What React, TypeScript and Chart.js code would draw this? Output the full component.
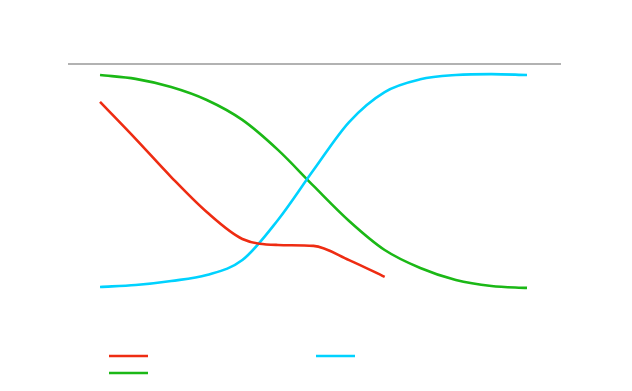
import React, { useEffect, useRef } from "react";
import { Chart, registerables } from "chart.js";

Chart.register(...registerables);

const xValues = [0, 1, 2, 3, 4, 5, 6, 7, 8, 9, 10, 11, 12];
const redValues = [84.2, 68.8, 52.9, 38.3, 27.1, 24.6, 24.2, 18.3, 11.3];
const greenValues = [95.4, 93.8, 90.4, 85.0, 76.7, 64.2, 49.2, 34.6, 22.5, 15.0, 10.0, 7.5, 6.7];
const cyanValues = [7.1, 7.9, 9.6, 12.1, 18.3, 35.0, 55.8, 75.8, 88.3, 93.6, 95.4, 95.8, 95.4];

const RED = "#ee2c12";
const GREEN = "#1bb816";
const CYAN = "#00d2ff";

const toPoints = (vals: number[]) => vals.map((v, i) => ({ x: xValues[i], y: v }));

const decorPlugin = {
  id: "decor",
  afterDraw(chart: any) {
    const { ctx, chartArea } = chart;
    ctx.save();
    ctx.strokeStyle = "#999999";
    ctx.lineWidth = 1.5;
    ctx.beginPath();
    ctx.moveTo(chartArea.left, chartArea.top);
    ctx.lineTo(chartArea.right, chartArea.top);
    ctx.stroke();
    const items = [
      { c: RED, x: 109, y: 356 },
      { c: CYAN, x: 316, y: 356 },
      { c: GREEN, x: 109, y: 373 },
    ];
    ctx.lineWidth = 2.5;
    for (const it of items) {
      ctx.strokeStyle = it.c;
      ctx.beginPath();
      ctx.moveTo(it.x, it.y);
      ctx.lineTo(it.x + 39, it.y);
      ctx.stroke();
    }
    ctx.restore();
  },
};

export default function App() {
  const ref = useRef<HTMLCanvasElement | null>(null);
  useEffect(() => {
    if (!ref.current) return;
    const common = {
      borderWidth: 2.6,
      pointRadius: 0,
      cubicInterpolationMode: "monotone" as const,
      fill: false,
    };
    const chart = new Chart(ref.current, {
      type: "line",
      data: {
        datasets: [
          { ...common, label: "red", data: toPoints(redValues), borderColor: RED },
          { ...common, label: "cyan", data: toPoints(cyanValues), borderColor: CYAN },
          { ...common, label: "green", data: toPoints(greenValues), borderColor: GREEN },
        ],
      },
      options: {
        responsive: false,
        animation: false,
        layout: { padding: { left: 68, right: 71, top: 64, bottom: 87 } },
        plugins: { legend: { display: false }, tooltip: { enabled: false } },
        scales: {
          x: { type: "linear", display: false, min: -0.9, max: 12.955 },
          y: { display: false, min: 0, max: 100 },
        },
      },
      plugins: [decorPlugin],
    });
    return () => chart.destroy();
  }, []);
  return (
    <div style={{ position: "fixed", left: 0, top: 0, width: 632, height: 391, background: "#fff" }}>
      <canvas ref={ref} width={632} height={391} style={{ display: "block" }} />
    </div>
  );
}
